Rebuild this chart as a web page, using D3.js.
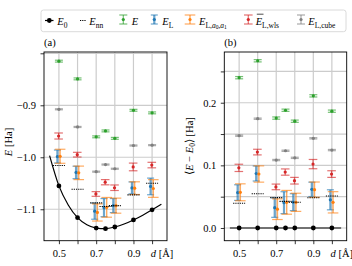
<!DOCTYPE html>
<html lang="en">
<head>
<meta charset="UTF-8">
<title>H2 energies</title>
<script src="https://d3js.org/d3.v7.min.js"></script>
<style>
  body { margin: 0; background: #fff; }
</style>
</head>
<body>
<div id="chart"></div>
<script>
// bond distances d [Å]
const dist = [0.5, 0.6, 0.7, 0.75, 0.8, 0.9, 1.0];
// exact ground state energy at each distance [Ha]
const e0 = [-1.0551, -1.1162, -1.1362, -1.1373, -1.1341, -1.1206, -1.1011];
// reference curve
const curveD = [0.45, 0.5, 0.55, 0.6, 0.65, 0.7, 0.75, 0.8, 0.85, 0.9, 0.95, 1.0, 1.05];
const curveE = [-0.997, -1.0551, -1.0917, -1.1162, -1.1300, -1.1362, -1.1373, -1.1341, -1.1284, -1.1206, -1.1114, -1.1011, -1.0902];

// all series below are given as E - E0 [Ha]
const eNN = [0.0394, 0.0547, 0.0485, 0.0425, 0.0410, 0.0483, 0.0510];
const eExact = [0.2400, 0.2670, 0.1755, 0.1880, 0.1705, 0.2110, 0.1865];
const eExactErr = [0.0018, 0.0018, 0.0018, 0.0018, 0.0018, 0.0018, 0.0018];
const eL = [0.0565, 0.0870, 0.0325, 0.0404, 0.0412, 0.0617, 0.0450];
const eLErr = [0.0125, 0.0120, 0.0155, 0.0175, 0.0135, 0.0115, 0.0160];
const eLa = [0.0570, 0.0862, 0.0300, 0.0410, 0.0410, 0.0612, 0.0410];
const eLaErr = [0.0135, 0.0130, 0.0165, 0.0190, 0.0145, 0.0122, 0.0170];
const eWls = [0.0960, 0.1212, 0.0656, 0.0893, 0.0755, 0.1020, 0.0861];
const eWlsErr = [0.0058, 0.0045, 0.0045, 0.0050, 0.0053, 0.0074, 0.0053];
const eCube = [0.1474, 0.1745, 0.1085, 0.1233, 0.1120, 0.1432, 0.1244];
const eCubeErr = [0.0010, 0.0010, 0.0010, 0.0010, 0.0010, 0.0010, 0.0010];

// ticks
const xTicks = [0.5, 0.6, 0.7, 0.8, 0.9, 1.0];
const xTickLabels = [0.5, 0.7, 0.9];
const yTicksA = [-1.1, -1.0, -0.9, -0.8];
const yLabelsA = [-1.1, -1.0, -0.9];
const yTicksB = [0, 0.05, 0.1, 0.15, 0.2, 0.25];
const yLabelsB = [0, 0.1, 0.2];

const W = 352, H = 266;
const GRID = "#cccccc";
const FS = 10.5;
const FONT = '"Liberation Serif", "Times New Roman", serif';

const svg = d3.select("#chart").append("svg")
  .attr("width", W).attr("height", H)
  .attr("font-family", FONT);

const SERIES = [
  {vals: eCube, errs: eCubeErr, color: "#7f7f7f", cap: 4, lw: 1.2, dx: 0},
  {vals: eExact, errs: eExactErr, color: "#2ca02c", cap: 4, lw: 1.2, dx: 0},
  {vals: eWls, errs: eWlsErr, color: "#d62728", cap: 4.3, lw: 1.2, dx: -0.3},
  {vals: eL, errs: eLErr, color: "#1f77b4", cap: 3.5, lw: 2.2, dx: -1.5},
  {vals: eLa, errs: eLaErr, color: "#ff7f0e", cap: 5.3, lw: 1.4, dx: 1.2}
];

const PANELS = [
  {left: 44, right: 167, yDom: [-1.1605, -0.7975], yTicks: yTicksA, yLabels: yLabelsA, abs: true, tag: "(a)"},
  {left: 224.3, right: 346.7, yDom: [-0.0203, 0.281], yTicks: yTicksB, yLabels: yLabelsB, abs: false, tag: "(b)"}
];
const TOP = 52, BOTTOM = 240.7;

PANELS.forEach(p => drawPanel(p));
drawLegend();

function drawPanel(p) {
  const x = d3.scaleLinear().domain([0.42, 1.08]).range([p.left, p.right]);
  const y = d3.scaleLinear().domain(p.yDom).range([BOTTOM, TOP]);
  const yv = (v, i) => p.abs ? e0[i] + v : v;
  const g = svg.append("g");

  // grid
  g.selectAll(".vg").data(xTicks).enter().append("line")
    .attr("x1", d => x(d)).attr("x2", d => x(d))
    .attr("y1", TOP).attr("y2", BOTTOM)
    .attr("stroke", GRID).attr("stroke-width", 1.2);
  g.selectAll(".hg").data(p.yTicks).enter().append("line")
    .attr("x1", p.left).attr("x2", p.right)
    .attr("y1", d => y(d)).attr("y2", d => y(d))
    .attr("stroke", GRID).attr("stroke-width", 1.2);

  // axes
  const fmt = d3.format(".1f");
  const yAxis = d3.axisLeft(y).tickValues(p.yTicks).tickSize(3.5).tickPadding(4.5)
    .tickFormat(d => p.yLabels.some(v => Math.abs(v - d) < 1e-9) ? fmt(d) : "");
  const ya = g.append("g").attr("transform", `translate(${p.left},0)`).call(yAxis);
  const xAxis = d3.axisBottom(x).tickValues(xTicks).tickSize(3.5).tickPadding(5.5)
    .tickFormat(d => xTickLabels.some(v => Math.abs(v - d) < 1e-9) ? fmt(d) : "");
  const xa = g.append("g").attr("transform", `translate(0,${BOTTOM})`).call(xAxis);
  [ya, xa].forEach(a => {
    a.attr("font-family", FONT).attr("font-size", FS);
    a.select(".domain").remove();
    a.selectAll("text").attr("font-family", FONT).attr("font-size", FS);
    a.selectAll("line").attr("stroke", "#000").attr("stroke-width", 0.8);
  });

  // x label at the right end
  const xl = g.append("text").attr("x", x(1.0) - 1.3).attr("y", 257.3).attr("font-size", FS);
  xl.append("tspan").attr("font-style", "italic").text("d");
  xl.append("tspan").text(" [Å]");

  // error bars
  SERIES.forEach(s => {
    const sg = g.append("g");
    dist.forEach((d, i) => {
      const cx = x(d) + s.dx;
      const yt = y(yv(s.vals[i] + s.errs[i], i));
      const yb = y(yv(s.vals[i] - s.errs[i], i));
      sg.append("line").attr("x1", cx).attr("x2", cx).attr("y1", yt).attr("y2", yb)
        .attr("stroke", s.color).attr("stroke-width", s.lw).attr("opacity", 0.65);
      [yt, yb].forEach(yy => sg.append("line")
        .attr("x1", cx - s.cap).attr("x2", cx + s.cap).attr("y1", yy).attr("y2", yy)
        .attr("stroke", s.color).attr("stroke-width", 1.2).attr("opacity", 0.65));
      sg.append("circle").attr("cx", cx).attr("cy", y(yv(s.vals[i], i)))
        .attr("r", 1.6).attr("fill", s.color);
    });
  });

  // E_nn dotted markers
  g.selectAll(".nn").data(dist).enter().append("line")
    .attr("x1", d => x(d) - 6).attr("x2", d => x(d) + 6)
    .attr("y1", (d, i) => y(yv(eNN[i], i))).attr("y2", (d, i) => y(yv(eNN[i], i)))
    .attr("stroke", "#000").attr("stroke-width", 1.1).attr("stroke-dasharray", "1.2,1");

  // E0 curve and points
  const line = d3.line().x(d => x(d[0])).y(d => y(d[1])).curve(d3.curveMonotoneX);
  g.append("path")
    .datum(curveD.map((d, i) => [d, p.abs ? curveE[i] : curveE[i] - curveE[i]]))
    .attr("fill", "none").attr("stroke", "#000").attr("stroke-width", 1.2)
    .attr("d", line);
  g.selectAll(".e0").data(dist).enter().append("circle")
    .attr("cx", d => x(d)).attr("cy", (d, i) => y(p.abs ? e0[i] : 0))
    .attr("r", 2.4).attr("fill", "#000");

  // frame
  g.append("rect").attr("x", p.left).attr("y", TOP)
    .attr("width", p.right - p.left).attr("height", BOTTOM - TOP)
    .attr("fill", "none").attr("stroke", "#000").attr("stroke-width", 0.9);

  // panel tag
  g.append("text").attr("x", p.left).attr("y", 45.5).attr("font-size", FS).text(p.tag);
}

// y labels
(function () {
  const la = svg.append("text").attr("font-size", FS).attr("text-anchor", "middle")
    .attr("transform", "translate(11.5,142) rotate(-90)");
  la.append("tspan").attr("font-style", "italic").text("E");
  la.append("tspan").text(" [Ha]");
  const lb = svg.append("text").attr("font-size", FS).attr("text-anchor", "middle")
    .attr("transform", "translate(192.5,146) rotate(-90)");
  lb.append("tspan").text("⟨");
  lb.append("tspan").attr("font-style", "italic").text("E");
  lb.append("tspan").text(" − ");
  lb.append("tspan").attr("font-style", "italic").text("E");
  lb.append("tspan").attr("font-size", 7.5).attr("dy", 2.2).text("0");
  lb.append("tspan").attr("dy", -2.2).text("⟩ [Ha]");
})();

function drawLegend() {
  const g = svg.append("g");
  g.append("rect").attr("x", 41).attr("y", 10).attr("width", 305).attr("height", 21.7)
    .attr("rx", 2.5).attr("fill", "#fff").attr("stroke", "#d0d0d0").attr("stroke-width", 0.8);
  const cy = 20.5, base = 25.3;

  // E0
  g.append("line").attr("x1", 45).attr("x2", 53.5).attr("y1", cy).attr("y2", cy)
    .attr("stroke", "#000").attr("stroke-width", 1.2);
  g.append("circle").attr("cx", 49.3).attr("cy", cy).attr("r", 2.4).attr("fill", "#000");
  label(57.3, [["E", "i"], ["0", "s"]]);

  // Enn
  g.append("line").attr("x1", 80).attr("x2", 86.5).attr("y1", cy).attr("y2", cy)
    .attr("stroke", "#000").attr("stroke-width", 1.1).attr("stroke-dasharray", "1.2,1");
  label(89.3, [["E", "i"], ["nn", "s"]]);

  const icons = [[123.3, SERIES[1]], [154.3, SERIES[3]], [190, SERIES[4]], [248.3, SERIES[2]], [301, SERIES[0]]];
  icons.forEach(([cx, s]) => {
    g.append("line").attr("x1", cx).attr("x2", cx).attr("y1", 15).attr("y2", 24)
      .attr("stroke", s.color).attr("stroke-width", s.lw).attr("opacity", 0.65);
    [15, 24].forEach(yy => g.append("line").attr("x1", cx - s.cap).attr("x2", cx + s.cap)
      .attr("y1", yy).attr("y2", yy).attr("stroke", s.color).attr("stroke-width", 1.2).attr("opacity", 0.65));
    g.append("circle").attr("cx", cx).attr("cy", 19.5).attr("r", 1.6).attr("fill", s.color);
  });
  label(131.7, [["E", "i"]]);
  label(162.3, [["E", "i"], ["L", "s"]]);
  label(199, [["E", "i"], ["L,", "s"], ["a", "si"], ["0", "ss"], [",", "s"], ["a", "si"], ["1", "ss"]]);
  label(255.7, [["E", "i"], ["L,wls", "s"]]);
  g.append("line").attr("x1", 256.8).attr("x2", 263.5).attr("y1", 14.2).attr("y2", 14.2)
    .attr("stroke", "#000").attr("stroke-width", 0.7);
  label(308.3, [["E", "i"], ["L,cube", "s"]]);

  function label(x0, parts) {
    const t = g.append("text").attr("x", x0).attr("y", base).attr("font-size", FS);
    let level = 0;
    parts.forEach(([s, k]) => {
      const target = k === "ss" ? 2 : (k === "s" || k === "si") ? 1 : 0;
      const shift = [0, 2.4, 3.6][target] - [0, 2.4, 3.6][level];
      const ts = t.append("tspan").attr("dy", shift).text(s)
        .attr("font-size", [FS, 7.5, 5.5][target]);
      if (k === "i" || k === "si") ts.attr("font-style", "italic");
      level = target;
    });
  }
}
</script>
</body>
</html>
